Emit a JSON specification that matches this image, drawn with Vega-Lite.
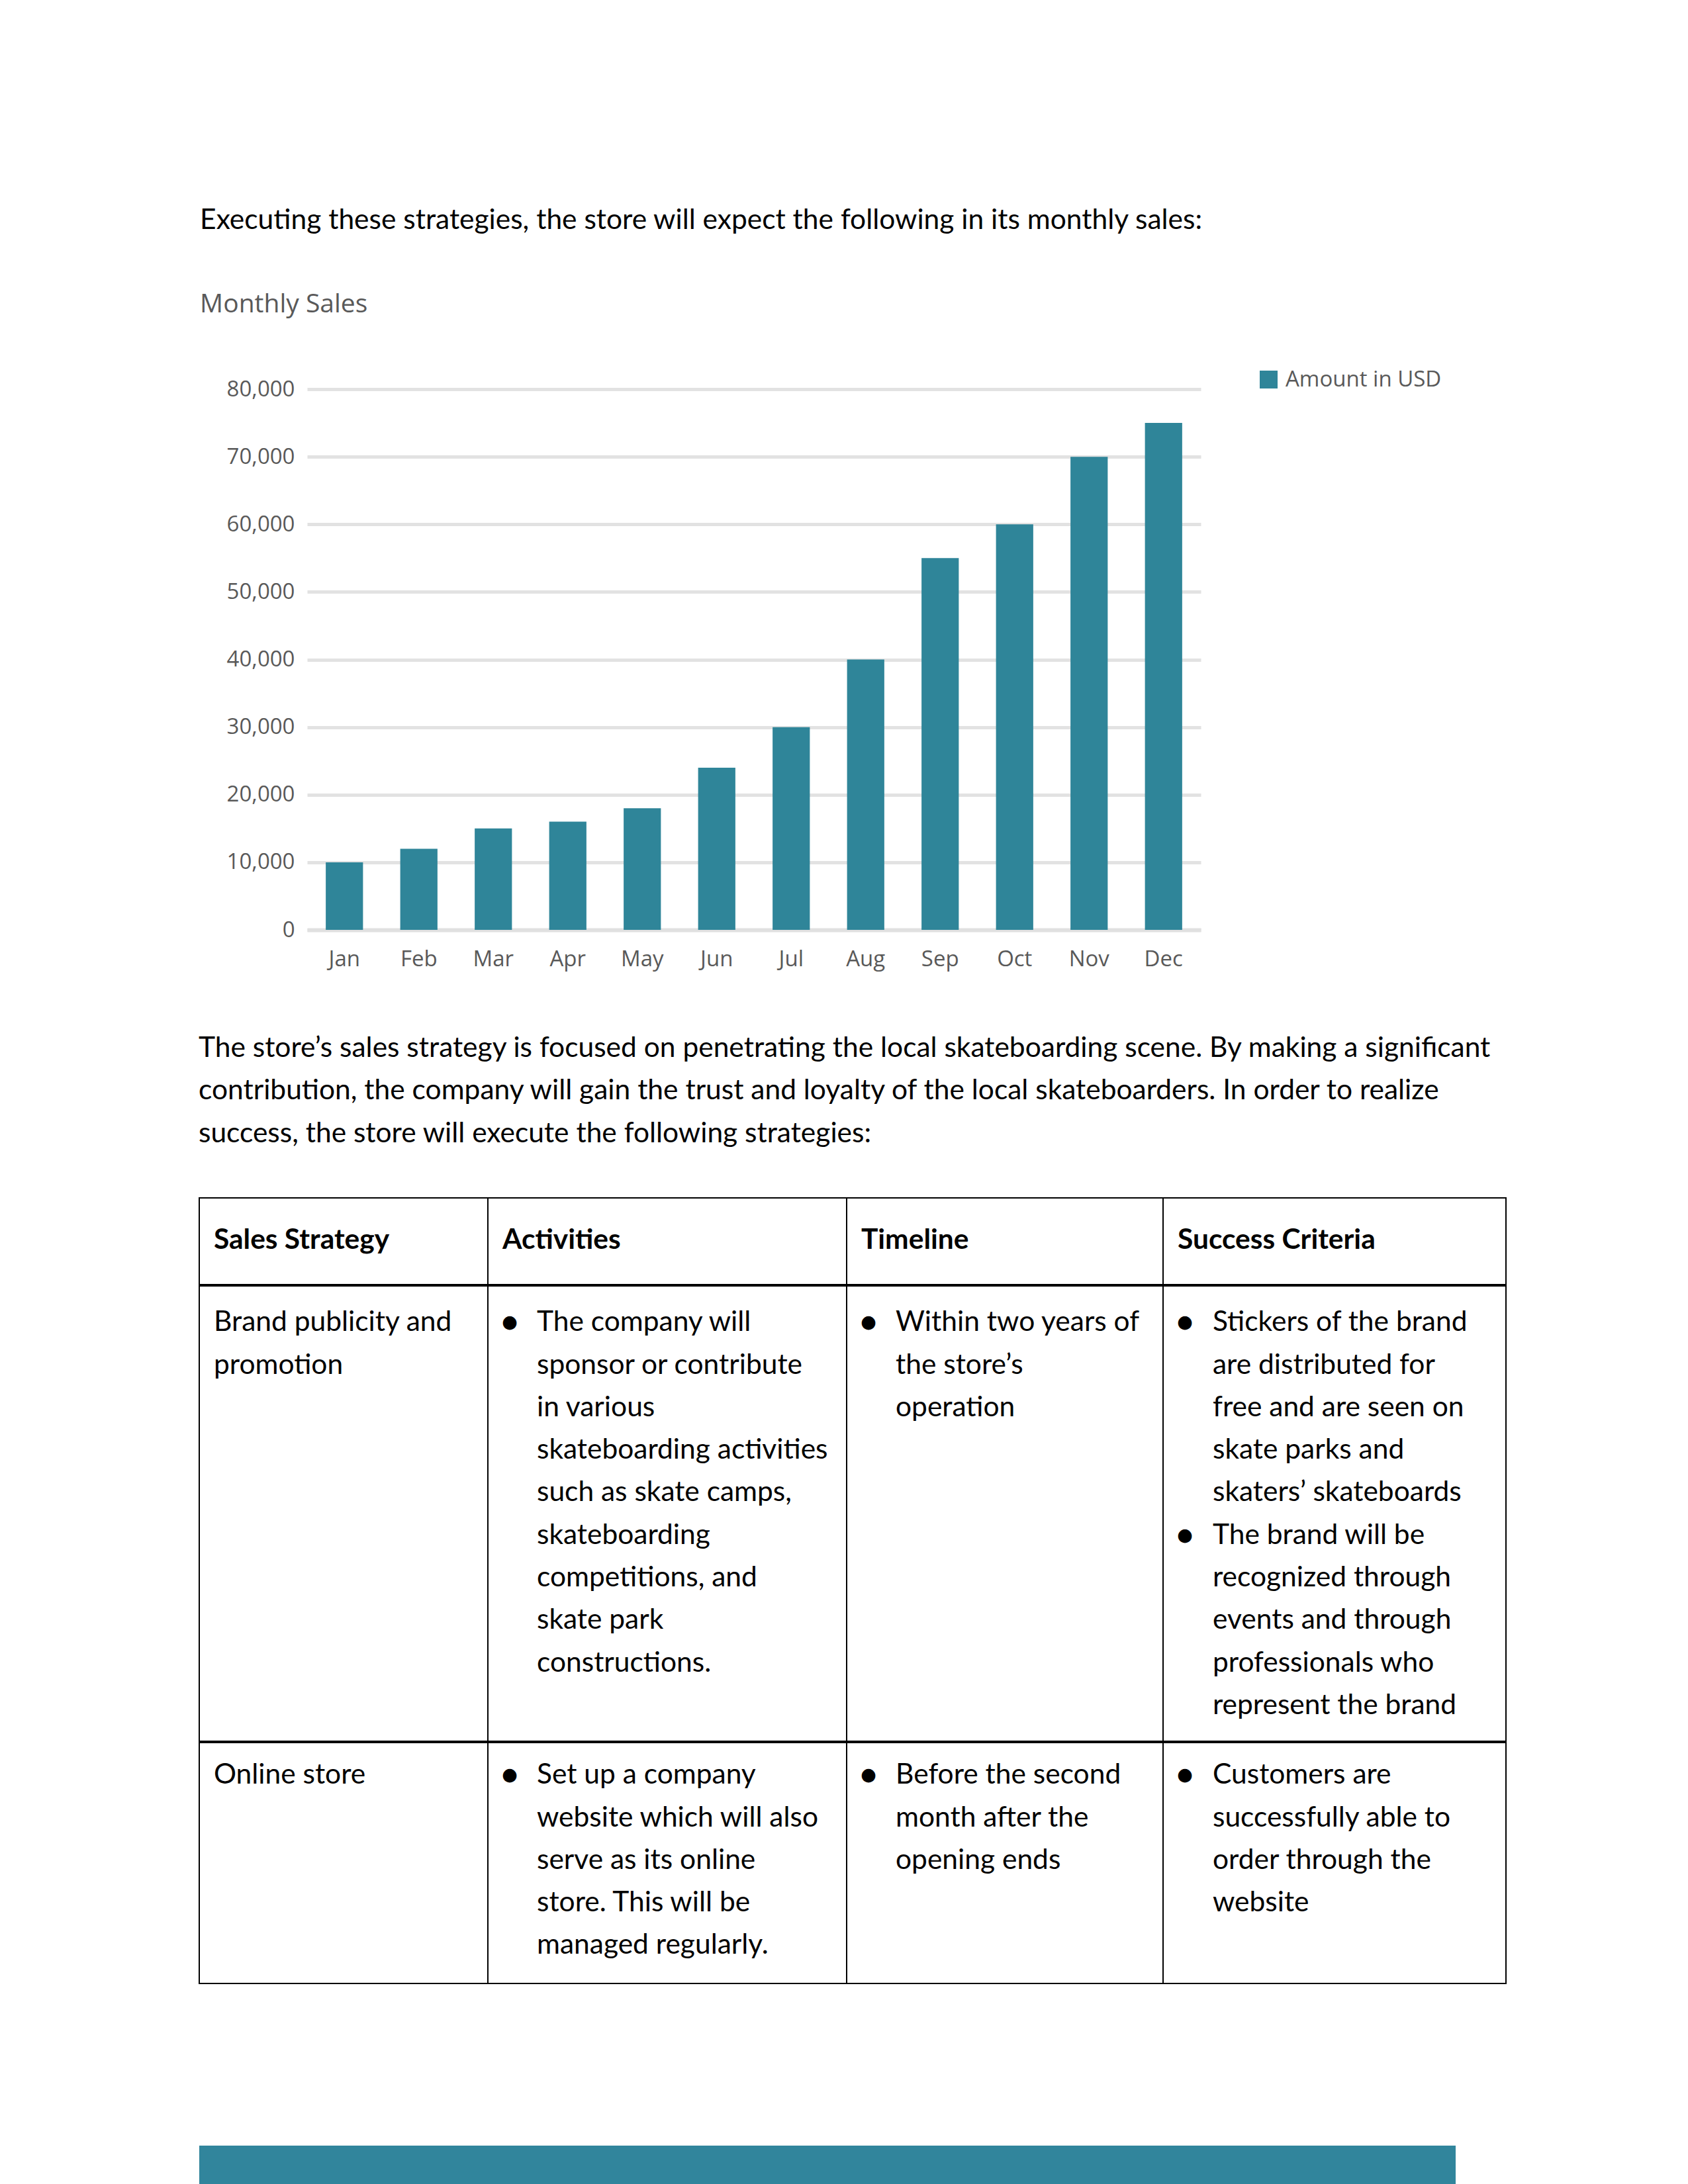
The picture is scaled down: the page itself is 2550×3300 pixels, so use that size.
{
  "$schema": "https://vega.github.io/schema/vega-lite/v6.json",
  "padding": {"left": 300, "top": 311, "right": 0, "bottom": 0},
  "background": "#ffffff",
  "config": {
    "view": {"stroke": "#000000", "strokeWidth": 2},
    "font": "Lato",
    "title": {"font": "Lato", "fontSize": 42.5, "fontWeight": "normal", "color": "#000000", "anchor": "start", "frame": "bounds"}
  },
  "datasets": {
    "sales": [
      {"month": "Jan", "amount": 10000},
      {"month": "Feb", "amount": 12000},
      {"month": "Mar", "amount": 15000},
      {"month": "Apr", "amount": 16000},
      {"month": "May", "amount": 18000},
      {"month": "Jun", "amount": 24000},
      {"month": "Jul", "amount": 30000},
      {"month": "Aug", "amount": 40000},
      {"month": "Sep", "amount": 55000},
      {"month": "Oct", "amount": 60000},
      {"month": "Nov", "amount": 70000},
      {"month": "Dec", "amount": 75000}
    ],
    "cells": [
      {"r": 0, "c": 0, "l": 1, "t": "Sales Strategy", "b": false},
      {"r": 0, "c": 1, "l": 1, "t": "Activities", "b": false},
      {"r": 0, "c": 2, "l": 1, "t": "Timeline", "b": false},
      {"r": 0, "c": 3, "l": 1, "t": "Success Criteria", "b": false},
      {"r": 1, "c": 0, "l": 1, "t": "Brand publicity and", "b": false},
      {"r": 1, "c": 0, "l": 2, "t": "promotion", "b": false},
      {"r": 1, "c": 1, "l": 1, "t": "The company will", "b": true},
      {"r": 1, "c": 1, "l": 2, "t": "sponsor or contribute", "b": false},
      {"r": 1, "c": 1, "l": 3, "t": "in various", "b": false},
      {"r": 1, "c": 1, "l": 4, "t": "skateboarding activities", "b": false},
      {"r": 1, "c": 1, "l": 5, "t": "such as skate camps,", "b": false},
      {"r": 1, "c": 1, "l": 6, "t": "skateboarding", "b": false},
      {"r": 1, "c": 1, "l": 7, "t": "competitions, and", "b": false},
      {"r": 1, "c": 1, "l": 8, "t": "skate park", "b": false},
      {"r": 1, "c": 1, "l": 9, "t": "constructions.", "b": false},
      {"r": 1, "c": 2, "l": 1, "t": "Within two years of", "b": true},
      {"r": 1, "c": 2, "l": 2, "t": "the store’s", "b": false},
      {"r": 1, "c": 2, "l": 3, "t": "operation", "b": false},
      {"r": 1, "c": 3, "l": 1, "t": "Stickers of the brand", "b": true},
      {"r": 1, "c": 3, "l": 2, "t": "are distributed for", "b": false},
      {"r": 1, "c": 3, "l": 3, "t": "free and are seen on", "b": false},
      {"r": 1, "c": 3, "l": 4, "t": "skate parks and", "b": false},
      {"r": 1, "c": 3, "l": 5, "t": "skaters’ skateboards", "b": false},
      {"r": 1, "c": 3, "l": 6, "t": "The brand will be", "b": true},
      {"r": 1, "c": 3, "l": 7, "t": "recognized through", "b": false},
      {"r": 1, "c": 3, "l": 8, "t": "events and through", "b": false},
      {"r": 1, "c": 3, "l": 9, "t": "professionals who", "b": false},
      {"r": 1, "c": 3, "l": 10, "t": "represent the brand", "b": false},
      {"r": 2, "c": 0, "l": 1, "t": "Online store", "b": false},
      {"r": 2, "c": 1, "l": 1, "t": "Set up a company", "b": true},
      {"r": 2, "c": 1, "l": 2, "t": "website which will also", "b": false},
      {"r": 2, "c": 1, "l": 3, "t": "serve as its online", "b": false},
      {"r": 2, "c": 1, "l": 4, "t": "store. This will be", "b": false},
      {"r": 2, "c": 1, "l": 5, "t": "managed regularly.", "b": false},
      {"r": 2, "c": 2, "l": 1, "t": "Before the second", "b": true},
      {"r": 2, "c": 2, "l": 2, "t": "month after the", "b": false},
      {"r": 2, "c": 2, "l": 3, "t": "opening ends", "b": false},
      {"r": 2, "c": 3, "l": 1, "t": "Customers are", "b": true},
      {"r": 2, "c": 3, "l": 2, "t": "successfully able to", "b": false},
      {"r": 2, "c": 3, "l": 3, "t": "order through the", "b": false},
      {"r": 2, "c": 3, "l": 4, "t": "website", "b": false}
    ]
  },
  "spacing": 96,
  "vconcat": [
    {
      "spacing": -19,
      "hconcat": [
        {
          "width": 0,
          "height": 0,
          "view": {"stroke": null},
          "data": {"values": []},
          "mark": {"type": "text"},
          "encoding": {}
        },
        {
          "width": 1350,
          "height": 817,
          "view": {"stroke": null},
          "title": {
            "text": "Executing these strategies, the store will expect the following in its monthly sales:",
            "subtitle": "Monthly Sales",
            "subtitleFont": "Open Sans",
            "subtitleFontSize": 39,
            "subtitleColor": "#595959",
            "subtitlePadding": 87,
            "offset": 92,
            "dx": -40
          },
          "data": {"name": "sales"},
          "mark": {"type": "bar"},
          "encoding": {
            "x": {
              "field": "month", "type": "ordinal", "sort": null,
              "scale": {"paddingInner": 0.5, "paddingOuter": 0.25},
              "axis": {"title": null, "labelAngle": 0, "labelFont": "Open Sans", "labelFontSize": 33, "labelColor": "#595959", "ticks": false, "domainColor": "#e0e0e0", "domainWidth": 6, "labelPadding": 28, "grid": false}
            },
            "y": {
              "field": "amount", "type": "quantitative",
              "scale": {"domain": [0, 80000], "nice": false},
              "axis": {"title": null, "values": [0, 10000, 20000, 30000, 40000, 50000, 60000, 70000, 80000], "format": ",.0f", "labelFont": "Open Sans", "labelFontSize": 33, "labelColor": "#595959", "domain": false, "ticks": false, "gridColor": "#e2e2e2", "gridWidth": 5, "labelPadding": 19}
            },
            "color": {
              "datum": "Amount in USD", "type": "nominal",
              "scale": {"range": ["#2F8599"]},
              "legend": {"title": null, "orient": "none", "legendX": 1599, "legendY": -31, "symbolType": "square", "symbolSize": 729, "symbolStrokeWidth": 0, "labelFont": "Open Sans", "labelFontSize": 33, "labelColor": "#595959", "labelOffset": 9, "labelLimit": 500}
            }
          }
        }
      ]
    },
    {
      "spacing": 244,
      "vconcat": [
        {
          "title": {
            "text": [
              "The store’s sales strategy is focused on penetrating the local skateboarding scene. By making a significant",
              "contribution, the company will gain the trust and loyalty of the local skateboarders. In order to realize",
              "success, the store will execute the following strategies:"
            ],
            "lineHeight": 64.5,
            "offset": 75
          },
          "spacing": 0,
          "vconcat": [
            {
              "spacing": 0,
              "bounds": "flush",
              "hconcat": [
                {"width": 436, "height": 131, "data": {"name": "cells"}, "transform": [{"filter": "datum.r == 0 && datum.c == 0"}],
                 "mark": {"type": "text", "align": "left", "baseline": "middle", "font": "Lato", "fontSize": 42.5, "fontWeight": "bold", "color": "#000000"},
                 "encoding": {"x": {"value": 22}, "y": {"field": "l", "type": "quantitative", "scale": {"domain": [0, 2.037], "reverse": true, "nice": false, "zero": false}, "axis": null}, "text": {"field": "t"}}},
                {"width": 542, "height": 131, "data": {"name": "cells"}, "transform": [{"filter": "datum.r == 0 && datum.c == 1"}],
                 "mark": {"type": "text", "align": "left", "baseline": "middle", "font": "Lato", "fontSize": 42.5, "fontWeight": "bold", "color": "#000000"},
                 "encoding": {"x": {"value": 22}, "y": {"field": "l", "type": "quantitative", "scale": {"domain": [0, 2.037], "reverse": true, "nice": false, "zero": false}, "axis": null}, "text": {"field": "t"}}},
                {"width": 478, "height": 131, "data": {"name": "cells"}, "transform": [{"filter": "datum.r == 0 && datum.c == 2"}],
                 "mark": {"type": "text", "align": "left", "baseline": "middle", "font": "Lato", "fontSize": 42.5, "fontWeight": "bold", "color": "#000000"},
                 "encoding": {"x": {"value": 22}, "y": {"field": "l", "type": "quantitative", "scale": {"domain": [0, 2.037], "reverse": true, "nice": false, "zero": false}, "axis": null}, "text": {"field": "t"}}},
                {"width": 518, "height": 131, "data": {"name": "cells"}, "transform": [{"filter": "datum.r == 0 && datum.c == 3"}],
                 "mark": {"type": "text", "align": "left", "baseline": "middle", "font": "Lato", "fontSize": 42.5, "fontWeight": "bold", "color": "#000000"},
                 "encoding": {"x": {"value": 22}, "y": {"field": "l", "type": "quantitative", "scale": {"domain": [0, 2.037], "reverse": true, "nice": false, "zero": false}, "axis": null}, "text": {"field": "t"}}}
              ]
            },
            {
              "spacing": 0,
              "bounds": "flush",
              "hconcat": [
                {"width": 436, "height": 688, "data": {"name": "cells"}, "transform": [{"filter": "datum.r == 1 && datum.c == 0"}],
                 "mark": {"type": "text", "align": "left", "baseline": "middle", "dy": -9, "font": "Lato", "fontSize": 42.5, "color": "#000000"},
                 "encoding": {"x": {"value": 22}, "y": {"field": "l", "type": "quantitative", "scale": {"domain": [0, 10.70], "reverse": true, "nice": false, "zero": false}, "axis": null}, "text": {"field": "t"}}},
                {"width": 542, "height": 688, "data": {"name": "cells"}, "transform": [{"filter": "datum.r == 1 && datum.c == 1"}],
                 "layer": [
                   {"mark": {"type": "text", "align": "left", "baseline": "middle", "dy": -9, "font": "Lato", "fontSize": 42.5, "color": "#000000"},
                    "encoding": {"x": {"value": 74}, "y": {"field": "l", "type": "quantitative", "scale": {"domain": [0, 10.70], "reverse": true, "nice": false, "zero": false}, "axis": null}, "text": {"field": "t"}}},
                   {"transform": [{"filter": "datum.b"}],
                    "mark": {"type": "text", "text": "●", "align": "center", "baseline": "middle", "dy": -9, "font": "DejaVu Sans", "fontSize": 27, "color": "#000000"},
                    "encoding": {"x": {"value": 33}, "y": {"field": "l", "type": "quantitative", "scale": {"domain": [0, 10.70], "reverse": true, "nice": false, "zero": false}, "axis": null}}}
                 ]},
                {"width": 478, "height": 688, "data": {"name": "cells"}, "transform": [{"filter": "datum.r == 1 && datum.c == 2"}],
                 "layer": [
                   {"mark": {"type": "text", "align": "left", "baseline": "middle", "dy": -9, "font": "Lato", "fontSize": 42.5, "color": "#000000"},
                    "encoding": {"x": {"value": 74}, "y": {"field": "l", "type": "quantitative", "scale": {"domain": [0, 10.70], "reverse": true, "nice": false, "zero": false}, "axis": null}, "text": {"field": "t"}}},
                   {"transform": [{"filter": "datum.b"}],
                    "mark": {"type": "text", "text": "●", "align": "center", "baseline": "middle", "dy": -9, "font": "DejaVu Sans", "fontSize": 27, "color": "#000000"},
                    "encoding": {"x": {"value": 33}, "y": {"field": "l", "type": "quantitative", "scale": {"domain": [0, 10.70], "reverse": true, "nice": false, "zero": false}, "axis": null}}}
                 ]},
                {"width": 518, "height": 688, "data": {"name": "cells"}, "transform": [{"filter": "datum.r == 1 && datum.c == 3"}],
                 "layer": [
                   {"mark": {"type": "text", "align": "left", "baseline": "middle", "dy": -9, "font": "Lato", "fontSize": 42.5, "color": "#000000"},
                    "encoding": {"x": {"value": 75}, "y": {"field": "l", "type": "quantitative", "scale": {"domain": [0, 10.70], "reverse": true, "nice": false, "zero": false}, "axis": null}, "text": {"field": "t"}}},
                   {"transform": [{"filter": "datum.b"}],
                    "mark": {"type": "text", "text": "●", "align": "center", "baseline": "middle", "dy": -9, "font": "DejaVu Sans", "fontSize": 27, "color": "#000000"},
                    "encoding": {"x": {"value": 33}, "y": {"field": "l", "type": "quantitative", "scale": {"domain": [0, 10.70], "reverse": true, "nice": false, "zero": false}, "axis": null}}}
                 ]}
              ]
            },
            {
              "spacing": 0,
              "bounds": "flush",
              "hconcat": [
                {"width": 436, "height": 364, "data": {"name": "cells"}, "transform": [{"filter": "datum.r == 2 && datum.c == 0"}],
                 "mark": {"type": "text", "align": "left", "baseline": "middle", "dy": -15, "font": "Lato", "fontSize": 42.5, "color": "#000000"},
                 "encoding": {"x": {"value": 22}, "y": {"field": "l", "type": "quantitative", "scale": {"domain": [0, 5.661], "reverse": true, "nice": false, "zero": false}, "axis": null}, "text": {"field": "t"}}},
                {"width": 542, "height": 364, "data": {"name": "cells"}, "transform": [{"filter": "datum.r == 2 && datum.c == 1"}],
                 "layer": [
                   {"mark": {"type": "text", "align": "left", "baseline": "middle", "dy": -15, "font": "Lato", "fontSize": 42.5, "color": "#000000"},
                    "encoding": {"x": {"value": 74}, "y": {"field": "l", "type": "quantitative", "scale": {"domain": [0, 5.661], "reverse": true, "nice": false, "zero": false}, "axis": null}, "text": {"field": "t"}}},
                   {"transform": [{"filter": "datum.b"}],
                    "mark": {"type": "text", "text": "●", "align": "center", "baseline": "middle", "dy": -15, "font": "DejaVu Sans", "fontSize": 27, "color": "#000000"},
                    "encoding": {"x": {"value": 33}, "y": {"field": "l", "type": "quantitative", "scale": {"domain": [0, 5.661], "reverse": true, "nice": false, "zero": false}, "axis": null}}}
                 ]},
                {"width": 478, "height": 364, "data": {"name": "cells"}, "transform": [{"filter": "datum.r == 2 && datum.c == 2"}],
                 "layer": [
                   {"mark": {"type": "text", "align": "left", "baseline": "middle", "dy": -15, "font": "Lato", "fontSize": 42.5, "color": "#000000"},
                    "encoding": {"x": {"value": 74}, "y": {"field": "l", "type": "quantitative", "scale": {"domain": [0, 5.661], "reverse": true, "nice": false, "zero": false}, "axis": null}, "text": {"field": "t"}}},
                   {"transform": [{"filter": "datum.b"}],
                    "mark": {"type": "text", "text": "●", "align": "center", "baseline": "middle", "dy": -15, "font": "DejaVu Sans", "fontSize": 27, "color": "#000000"},
                    "encoding": {"x": {"value": 33}, "y": {"field": "l", "type": "quantitative", "scale": {"domain": [0, 5.661], "reverse": true, "nice": false, "zero": false}, "axis": null}}}
                 ]},
                {"width": 518, "height": 364, "data": {"name": "cells"}, "transform": [{"filter": "datum.r == 2 && datum.c == 3"}],
                 "layer": [
                   {"mark": {"type": "text", "align": "left", "baseline": "middle", "dy": -15, "font": "Lato", "fontSize": 42.5, "color": "#000000"},
                    "encoding": {"x": {"value": 75}, "y": {"field": "l", "type": "quantitative", "scale": {"domain": [0, 5.661], "reverse": true, "nice": false, "zero": false}, "axis": null}, "text": {"field": "t"}}},
                   {"transform": [{"filter": "datum.b"}],
                    "mark": {"type": "text", "text": "●", "align": "center", "baseline": "middle", "dy": -15, "font": "DejaVu Sans", "fontSize": 27, "color": "#000000"},
                    "encoding": {"x": {"value": 33}, "y": {"field": "l", "type": "quantitative", "scale": {"domain": [0, 5.661], "reverse": true, "nice": false, "zero": false}, "axis": null}}}
                 ]}
              ]
            }
          ]
        },
        {
          "width": 1898,
          "height": 70,
          "view": {"fill": "#31859C", "stroke": null},
          "data": {"values": []},
          "mark": {"type": "text"},
          "encoding": {}
        }
      ]
    }
  ]
}
